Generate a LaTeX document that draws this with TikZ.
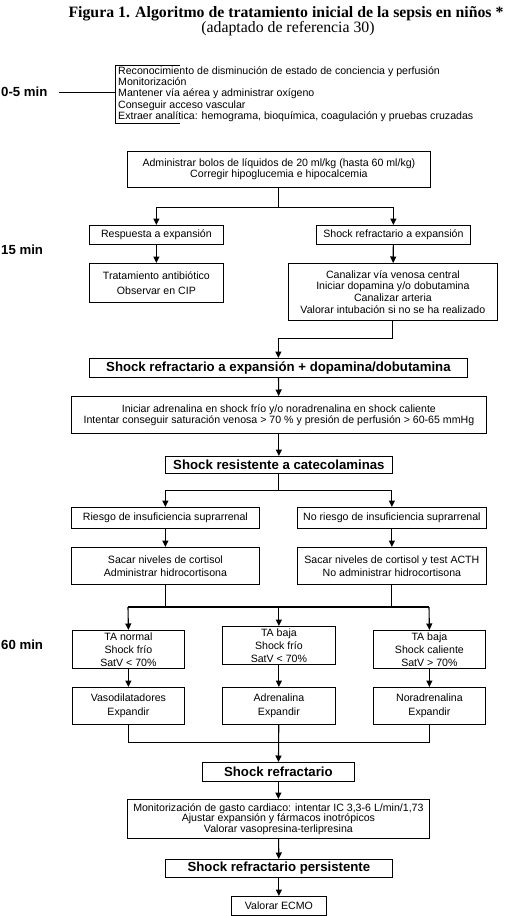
\documentclass[tikz,border=0pt]{standalone}
\usepackage{fontspec}
\setmainfont{Liberation Sans}
\newfontfamily\tnr{Liberation Serif}
\usetikzlibrary{arrows.meta}
\tikzset{
  bx/.style={draw, line width=0.8pt, inner sep=0pt, align=center, anchor=north west, font=\fontsize{10.6}{11.5}\selectfont},
  bbx/.style={bx, font=\fontsize{13.2}{14}\selectfont\bfseries},
  con/.style={line width=1.1pt},
  arr/.style={con, -{Triangle[length=6.5pt,width=6pt]}},
  lab/.style={font=\fontsize{13.2}{14}\selectfont\bfseries, anchor=west, inner sep=0pt},
  ttl/.style={font=\tnr\fontsize{15.8}{16}\selectfont\bfseries, inner sep=0pt},
  sttl/.style={font=\tnr\fontsize{15.8}{16}\selectfont, inner sep=0pt}
}
\begin{document}
\begin{tikzpicture}[x=1pt,y=-1pt]
\useasboundingbox (0,0) rectangle (508,916);
% title
\node[ttl] (title) at (286,14) {Figura 1. Algoritmo de tratamiento inicial de la sepsis en niños *};
\node[sttl] (subtitle) at (288,29) {(adaptado de referencia 30)};
% time labels
\node[lab] (t05) at (1,92) {0-5 min};
\node[lab] (t15) at (1,250) {15 min};
\node[lab] (t60) at (1,645) {60 min};
% first block
\node[anchor=west, inner sep=0pt, align=left, font=\fontsize{10.6}{11.2}\selectfont] (blk) at (118,94)
  {Reconocimiento de disminución de estado de conciencia y perfusión\\
   Monitorización\\
   Mantener vía aérea y administrar oxígeno\\
   Conseguir acceso vascular\\
   Extraer analítica: hemograma, bioquímica, coagulación y pruebas cruzadas};
\coordinate (brTR) at (180,65);
\coordinate (brTL) at (115,65);
\coordinate (brBL) at (115,123);
\coordinate (brBR) at (180,123);
\coordinate (brM) at (115,92);
\draw[line width=0.8pt] (brTR) -- (brTL) -- (brBL) -- (brBR);
\draw[line width=0.8pt] ([xshift=11pt]t05.east) -- (brM);
% boxes
\node[bx, minimum width=303pt, minimum height=36pt] (A) at (127,151)
  {Administrar bolos de líquidos de 20 ml/kg (hasta 60 ml/kg)\\Corregir hipoglucemia e hipocalcemia};
\node[bx, minimum width=134pt, minimum height=19pt] (resp) at (89,225) {Respuesta a expansión};
\node[bx, minimum width=154pt, minimum height=19pt] (shk1) at (316,225) {Shock refractario a expansión};
\node[bx, minimum width=134pt, minimum height=39pt, font=\fontsize{10.6}{14.5}\selectfont] (trat) at (89,263)
  {Tratamiento antibiótico\\Observar en CIP};
\node[bx, minimum width=209pt, minimum height=57pt, font=\fontsize{10.6}{11.7}\selectfont] (canal) at (288,263)
  {Canalizar vía venosa central\\Iniciar dopamina y/o dobutamina\\Canalizar arteria\\Valorar intubación si no se ha realizado};
\node[bbx, minimum width=378pt, minimum height=19pt] (sd) at (89,358) {Shock refractario a expansión + dopamina/dobutamina};
\node[bx, minimum width=415pt, minimum height=37pt, font=\fontsize{10.6}{11}\selectfont] (ini) at (71,396)
  {Iniciar adrenalina en shock frío y/o noradrenalina en shock caliente\\Intentar conseguir saturación venosa > 70 \% y presión de perfusión > 60-65 mmHg};
\node[bbx, minimum width=227pt, minimum height=17pt] (res) at (165,456) {Shock resistente a catecolaminas};
\node[bx, minimum width=188pt, minimum height=21pt] (r1) at (71,507) {Riesgo de insuficiencia suprarrenal};
\node[bx, minimum width=189pt, minimum height=21pt] (r2) at (297,507) {No riesgo de insuficiencia suprarrenal};
\node[bx, minimum width=188pt, minimum height=37pt, font=\fontsize{10.6}{12.7}\selectfont] (s1) at (71,547)
  {Sacar niveles de cortisol\\Administrar hidrocortisona};
\node[bx, minimum width=189pt, minimum height=37pt, font=\fontsize{10.6}{12.7}\selectfont] (s2) at (297,547)
  {Sacar niveles de cortisol y test ACTH\\No administrar hidrocortisona};
\node[bx, minimum width=112pt, minimum height=38pt, font=\fontsize{10.6}{13}\selectfont] (c1) at (72,630)
  {TA normal\\Shock frío\\SatV < 70\%};
\node[bx, minimum width=113pt, minimum height=38pt, font=\fontsize{10.6}{13}\selectfont] (c2) at (222,626)
  {TA baja\\Shock frío\\SatV < 70\%};
\node[bx, minimum width=112pt, minimum height=38pt, font=\fontsize{10.6}{13}\selectfont] (c3) at (373,630)
  {TA baja\\Shock caliente\\SatV > 70\%};
\node[bx, minimum width=112pt, minimum height=37pt, font=\fontsize{10.6}{14}\selectfont] (v1) at (72,687)
  {Vasodilatadores\\Expandir};
\node[bx, minimum width=113pt, minimum height=37pt, font=\fontsize{10.6}{14}\selectfont] (v2) at (222,687)
  {Adrenalina\\Expandir};
\node[bx, minimum width=112pt, minimum height=37pt, font=\fontsize{10.6}{14}\selectfont] (v3) at (373,687)
  {Noradrenalina\\Expandir};
\node[bbx, minimum width=152pt, minimum height=19pt] (sr) at (202,762) {Shock refractario};
\node[bx, minimum width=302pt, minimum height=39pt, font=\fontsize{10.6}{10.5}\selectfont] (mon) at (127,799)
  {Monitorización de gasto cardiaco: intentar IC 3,3-6 L/min/1,73\\Ajustar expansión y fármacos inotrópicos\\Valorar vasopresina-terlipresina};
\node[bbx, minimum width=227pt, minimum height=18pt] (srp) at (165,859) {Shock refractario persistente};
\node[bx, minimum width=95pt, minimum height=19pt] (ecmo) at (231,896) {Valorar ECMO};
% connectors
\draw[con] (A.south) -- ++(0,20) coordinate (jA);
\draw[arr] (jA) -| (resp.north);
\draw[arr] (jA) -| (shk1.north);
\draw[arr] (resp) -- (trat);
\draw[arr] (shk1) -- (canal);
\draw[arr] (canal.south) -- ++(0,18) -| (sd.north);
\draw[arr] (sd) -- (ini);
\draw[arr] (ini) -- (res);
\draw[con] (res.south) -- ++(0,17) coordinate (jR);
\draw[arr] (jR) -| (r1.north);
\draw[arr] (jR) -| (r2.north);
\draw[arr] (r1) -- (s1);
\draw[arr] (r2) -- (s2);
\coordinate (jL6) at (128,607);
\coordinate (jR6) at (429,607);
\draw[con] (s1.south) -- (s1.south |- jL6);
\draw[con] (s2.south) -- (s2.south |- jL6);
\draw[con] (jL6) -- (jR6);
\draw[arr] (jL6) -- (c1.north);
\draw[arr] (c2.north |- jL6) -- (c2.north);
\draw[arr] (jR6) -- (c3.north);
\draw[arr] (c1) -- (v1);
\draw[arr] (c2) -- (v2);
\draw[arr] (c3) -- (v3);
\draw[con] (v1.south) -- ++(0,18) -| (v3.south);
\draw[arr] (v2) -- (sr);
\draw[arr] (sr) -- (mon);
\draw[arr] (mon) -- (srp);
\draw[arr] (srp) -- (ecmo);
\end{tikzpicture}
\end{document}
